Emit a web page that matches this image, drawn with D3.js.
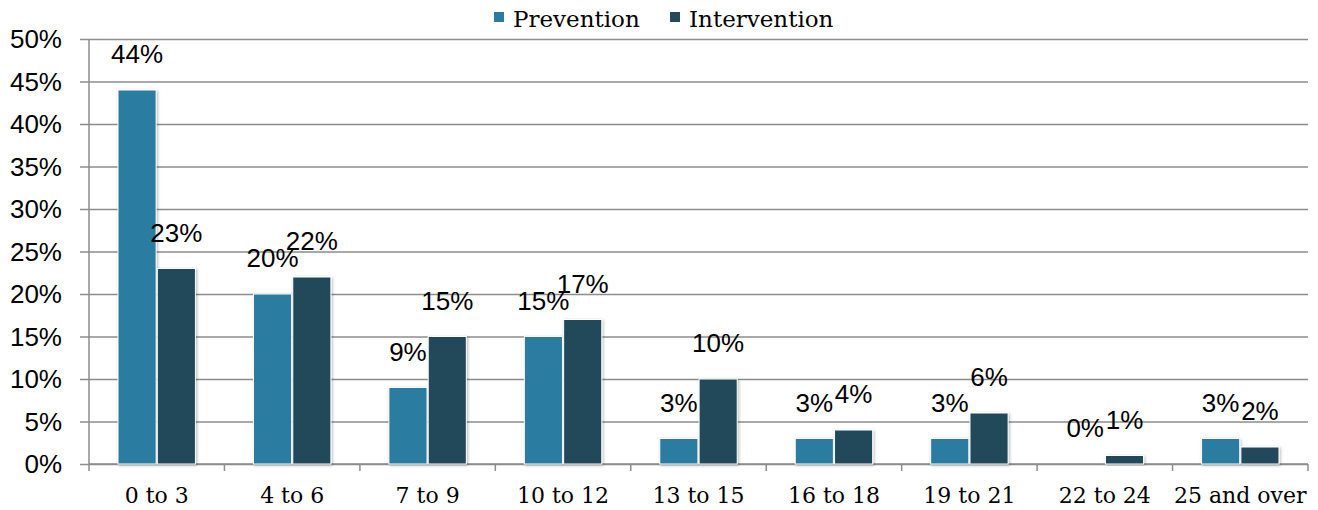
<!DOCTYPE html>
<html>
<head>
<meta charset="utf-8">
<script src="https://cdn.jsdelivr.net/npm/d3@7"></script>
<style>
  body { margin: 0; background: #fff; }
</style>
</head>
<body>
<div id="chart"></div>
<script>
const categories = ["0 to 3", "4 to 6", "7 to 9", "10 to 12", "13 to 15", "16 to 18", "19 to 21", "22 to 24", "25 and over"];
const series = ["Prevention", "Intervention"];
const prevention = [44, 20, 9, 15, 3, 3, 3, 0, 3];
const intervention = [23, 22, 15, 17, 10, 4, 6, 1, 2];
const yTicks = [0, 5, 10, 15, 20, 25, 30, 35, 40, 45, 50];
const colors = ["#2c7ba0", "#244a5a"];

const W = 1318, H = 510;
const margin = { top: 39, right: 10, bottom: 46, left: 89 };
const width = W - margin.left - margin.right,
    height = H - margin.top - margin.bottom;

const svg = d3.select("#chart")
    .append("svg")
    .attr("width", W)
    .attr("height", H);

// soft shadow behind bars
const defs = svg.append("defs");
defs.append("filter")
    .attr("id", "shadow")
    .attr("x", "-20%").attr("y", "-20%")
    .attr("width", "140%").attr("height", "140%")
    .append("feDropShadow")
    .attr("dx", 1).attr("dy", 1)
    .attr("stdDeviation", 1.5)
    .attr("flood-color", "#000")
    .attr("flood-opacity", 0.3);

const g = svg.append("g")
    .attr("transform", `translate(${margin.left}, ${margin.top})`);

const x0 = d3.scaleBand().domain(categories).range([0, width]);
const bw = x0.bandwidth();
const x1 = d3.scaleBand().domain(series).range([29, bw - 29]).paddingInner(0.03);
const y = d3.scaleLinear().domain([0, 50]).range([height, 0]);

// gridlines + y ticks
g.append("g")
    .call(d3.axisLeft(y).tickValues(yTicks).tickSize(-width - 9).tickFormat(""))
    .attr("transform", "translate(-9,0)")
    .call(a => a.select(".domain").remove())
    .call(a => a.selectAll(".tick line").attr("stroke", "#8c8c8c").attr("stroke-width", 1.5));

// y labels
g.append("g")
    .selectAll("text")
    .data(yTicks)
    .join("text")
    .attr("x", -27)
    .attr("y", d => y(d))
    .attr("dy", "0.36em")
    .attr("text-anchor", "end")
    .style("font-family", "Liberation Sans, Arial, sans-serif")
    .style("font-size", "26px")
    .attr("fill", "#000")
    .text(d => d + "%");

// y axis line
g.append("line")
    .attr("x1", 0).attr("x2", 0)
    .attr("y1", 0).attr("y2", height)
    .attr("stroke", "#8c8c8c").attr("stroke-width", 1.5);

// x axis with ticks at band edges
const xAxis = g.append("g").attr("transform", `translate(0, ${height})`);
xAxis.append("line")
    .attr("x1", 0).attr("x2", width)
    .attr("stroke", "#8c8c8c").attr("stroke-width", 1.5);
xAxis.selectAll(".cat-tick")
    .data(d3.range(categories.length + 1))
    .join("line")
    .attr("class", "cat-tick")
    .attr("x1", i => i * bw).attr("x2", i => i * bw)
    .attr("y1", 0).attr("y2", 7)
    .attr("stroke", "#8c8c8c").attr("stroke-width", 1.5);
xAxis.selectAll(".cat-label")
    .data(categories)
    .join("text")
    .attr("class", "cat-label")
    .attr("x", d => x0(d) + bw / 2)
    .attr("y", 39)
    .attr("text-anchor", "middle")
    .style("font-family", "DejaVu Serif, serif")
    .style("font-size", "22px")
    .attr("fill", "#000")
    .text(d => d);

const rows = categories.map((c, i) => ({ cat: c, values: [prevention[i], intervention[i]] }));

const groups = g.append("g")
    .selectAll("g")
    .data(rows)
    .join("g")
    .attr("transform", d => `translate(${x0(d.cat)}, 0)`);

groups.selectAll("rect")
    .data(d => d.values.map((v, k) => ({ key: series[k], v: v, k: k })))
    .join("rect")
    .attr("x", d => x1(d.key))
    .attr("y", d => y(d.v))
    .attr("width", x1.bandwidth())
    .attr("height", d => height - y(d.v))
    .attr("fill", d => colors[d.k])
    .attr("stroke", "#fff")
    .attr("stroke-width", 1)
    .attr("filter", d => d.v > 0 ? "url(#shadow)" : null);

groups.selectAll("text")
    .data(d => d.values.map((v, k) => ({ key: series[k], v: v, k: k })))
    .join("text")
    .attr("x", d => x1(d.key) + x1.bandwidth() / 2)
    .attr("y", d => y(d.v) - 27)
    .attr("text-anchor", "middle")
    .style("font-family", "Liberation Sans, Arial, sans-serif")
    .style("font-size", "26px")
    .attr("fill", "#000")
    .text(d => d.v + "%");

// legend
const legend = svg.append("g").attr("transform", "translate(494, 0)");
const legendX = [0, 176];
series.forEach((s, i) => {
    legend.append("rect")
        .attr("x", legendX[i])
        .attr("y", 12)
        .attr("width", 10)
        .attr("height", 10)
        .attr("fill", colors[i]);
    legend.append("text")
        .attr("x", legendX[i] + 19)
        .attr("y", 27)
        .style("font-family", "DejaVu Serif, serif")
        .style("font-size", "23px")
        .attr("fill", "#000")
        .text(s);
});
</script>
</body>
</html>
